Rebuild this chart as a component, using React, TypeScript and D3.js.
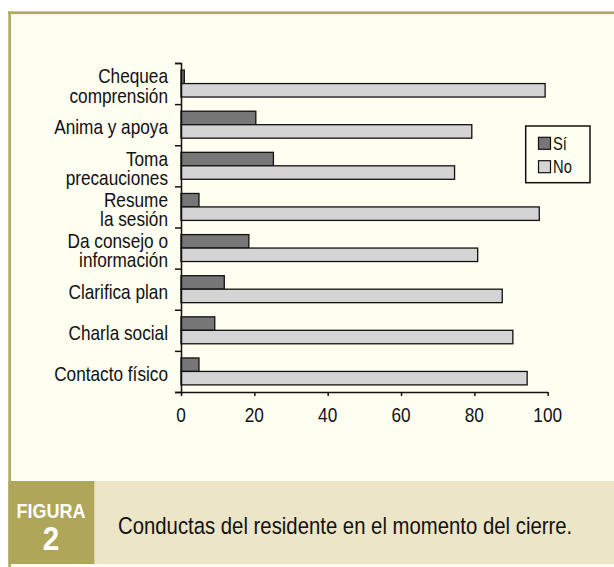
import React, { useRef, useEffect } from "react";
import * as d3 from "d3";

// behaviours, top to bottom as in the figure
const categories = [
  "Chequea\ncomprensión",
  "Anima y apoya",
  "Toma\nprecauciones",
  "Resume\nla sesión",
  "Da consejo o\ninformación",
  "Clarifica plan",
  "Charla social",
  "Contacto físico",
];
const siValues = [0.9, 20.4, 25.2, 4.9, 18.5, 11.8, 9.2, 4.9];
const noValues = [99.3, 79.3, 74.6, 97.7, 80.9, 87.6, 90.5, 94.4];
const seriesNames = ["Sí", "No"];
const xTicks = [0, 20, 40, 60, 80, 100];
const figureLabel = "FIGURA";
const figureNumber = "2";
const caption = "Conductas del residente en el momento del cierre.";

const W = 614;
const H = 567;
const FONT = "'Liberation Sans', Arial, sans-serif";
const NARROW = 0.82; // the original uses a condensed face
const colors = ["#777777", "#d4d4d4"];

const App = () => {
  const svgRef = useRef<SVGSVGElement | null>(null);

  useEffect(() => {
    const svg = d3.select(svgRef.current);
    svg.selectAll("*").remove();

    // condensed text: squeeze horizontally around the anchor point
    const narrowText = (parent: any, tx: number, ty: number, str: string, size: number, anchor = "start", sx = NARROW) => {
      return parent.append("text")
        .attr("transform", `translate(${tx},${ty}) scale(${sx},1)`)
        .attr("text-anchor", anchor)
        .attr("font-family", FONT)
        .attr("font-size", size)
        .attr("fill", "#111111")
        .text(str);
    };

    // frame + background
    svg.append("rect").attr("x", 0).attr("y", 0).attr("width", W).attr("height", H).attr("fill", "#ffffff");
    svg.append("rect").attr("x", 8).attr("y", 11).attr("width", W - 8).attr("height", H - 11).attr("fill", "#fefef1");
    svg.append("rect").attr("x", 8).attr("y", 11).attr("width", W - 8).attr("height", 1).attr("fill", "#dcd7a6");
    svg.append("rect").attr("x", 8).attr("y", 11.7).attr("width", W - 8).attr("height", 2.4).attr("fill", "#b2aa60");
    svg.append("rect").attr("x", 8.3).attr("y", 11.7).attr("width", 2.7).attr("height", H - 11.7).attr("fill", "#b2aa60");

    // caption band
    svg.append("rect").attr("x", 8.3).attr("y", 481).attr("width", W - 8.3).attr("height", 83).attr("fill", "#ece5c8");
    svg.append("rect").attr("x", 8.3).attr("y", 481).attr("width", 86).attr("height", 83).attr("fill", "#b0a65a");
    narrowText(svg, 51, 518.3, figureLabel, 21, "middle", 0.86)
      .attr("font-weight", "bold").attr("fill", "#ffffff");
    narrowText(svg, 51, 550, figureNumber, 33, "middle", 0.9)
      .attr("font-weight", "bold").attr("fill", "#ffffff");
    narrowText(svg, 118, 534, caption, 23.5, "start", 0.865);

    // scales
    const x = d3.scaleLinear().domain([0, 100]).range([181, 547.7]);
    const y = d3.scaleBand().domain(categories).range([63, 392]).paddingInner(0.345).paddingOuter(0.1725);
    const ySub = d3.scaleBand().domain(seriesNames).range([0, y.bandwidth()]);
    const yIdx = d3.scaleLinear().domain([0, categories.length]).range([63, 392]);

    const rows = categories.map((c, i) => ({ c, vals: [siValues[i], noValues[i]] }));

    const g = svg.append("g");
    const groups = g.selectAll("g.row").data(rows).join("g")
      .attr("class", "row")
      .attr("transform", (d) => `translate(0,${y(d.c)})`);
    groups.selectAll("rect")
      .data((d) => d.vals.map((v, k) => ({ v, s: seriesNames[k], k })))
      .join("rect")
      .attr("x", x(0))
      .attr("y", (d) => ySub(d.s) as number)
      .attr("width", (d) => x(d.v) - x(0))
      .attr("height", ySub.bandwidth())
      .attr("fill", (d) => colors[d.k])
      .attr("stroke", "#111111")
      .attr("stroke-width", 1.3);

    // y axis: ticks on category boundaries
    const yAxis = d3.axisLeft(yIdx).ticks(categories.length).tickFormat(() => "").tickSizeOuter(0).tickSize(6);
    const ya = svg.append("g").attr("transform", `translate(${x(0)},0)`).call(yAxis);
    ya.selectAll("path, line").attr("stroke", "#111111").attr("stroke-width", 1.5);

    // category labels
    categories.forEach((c) => {
      const lines = c.split("\n");
      const mid = (y(c) as number) - y.step() * 0.1725 + y.step() / 2;
      const lh = 19.5;
      lines.forEach((ln, i) => {
        const base = mid + 9.5 + (i - (lines.length - 1) / 2) * lh;
        narrowText(svg, 168, base, ln, 21, "end");
      });
    });

    // x axis
    const xAxis = d3.axisBottom(x).tickValues(xTicks).tickSize(4).tickSizeOuter(0).tickFormat(() => "");
    const xa = svg.append("g").attr("transform", "translate(0,392)").call(xAxis);
    xa.selectAll("path, line").attr("stroke", "#111111").attr("stroke-width", 1.5);
    xTicks.forEach((t) => {
      narrowText(svg, x(t), 421.7, String(t), 21, "middle");
    });

    // legend
    const lg = svg.append("g");
    lg.append("rect").attr("x", 525.7).attr("y", 126).attr("width", 64.3).attr("height", 56.7)
      .attr("fill", "#fefef1").attr("stroke", "#111111").attr("stroke-width", 1.5);
    seriesNames.forEach((s, k) => {
      const top = 137.3 + k * 23.4;
      lg.append("rect").attr("x", 538.5).attr("y", top).attr("width", 12).attr("height", 12)
        .attr("fill", colors[k]).attr("stroke", "#111111").attr("stroke-width", 1.2);
      narrowText(lg, 553, top + 12.3, s, 18, "start");
    });
  }, []);

  return (
    <svg
      ref={svgRef}
      width={W}
      height={H}
      style={{ position: "absolute", left: 0, top: 0, display: "block" }}
    />
  );
};

export default App;
